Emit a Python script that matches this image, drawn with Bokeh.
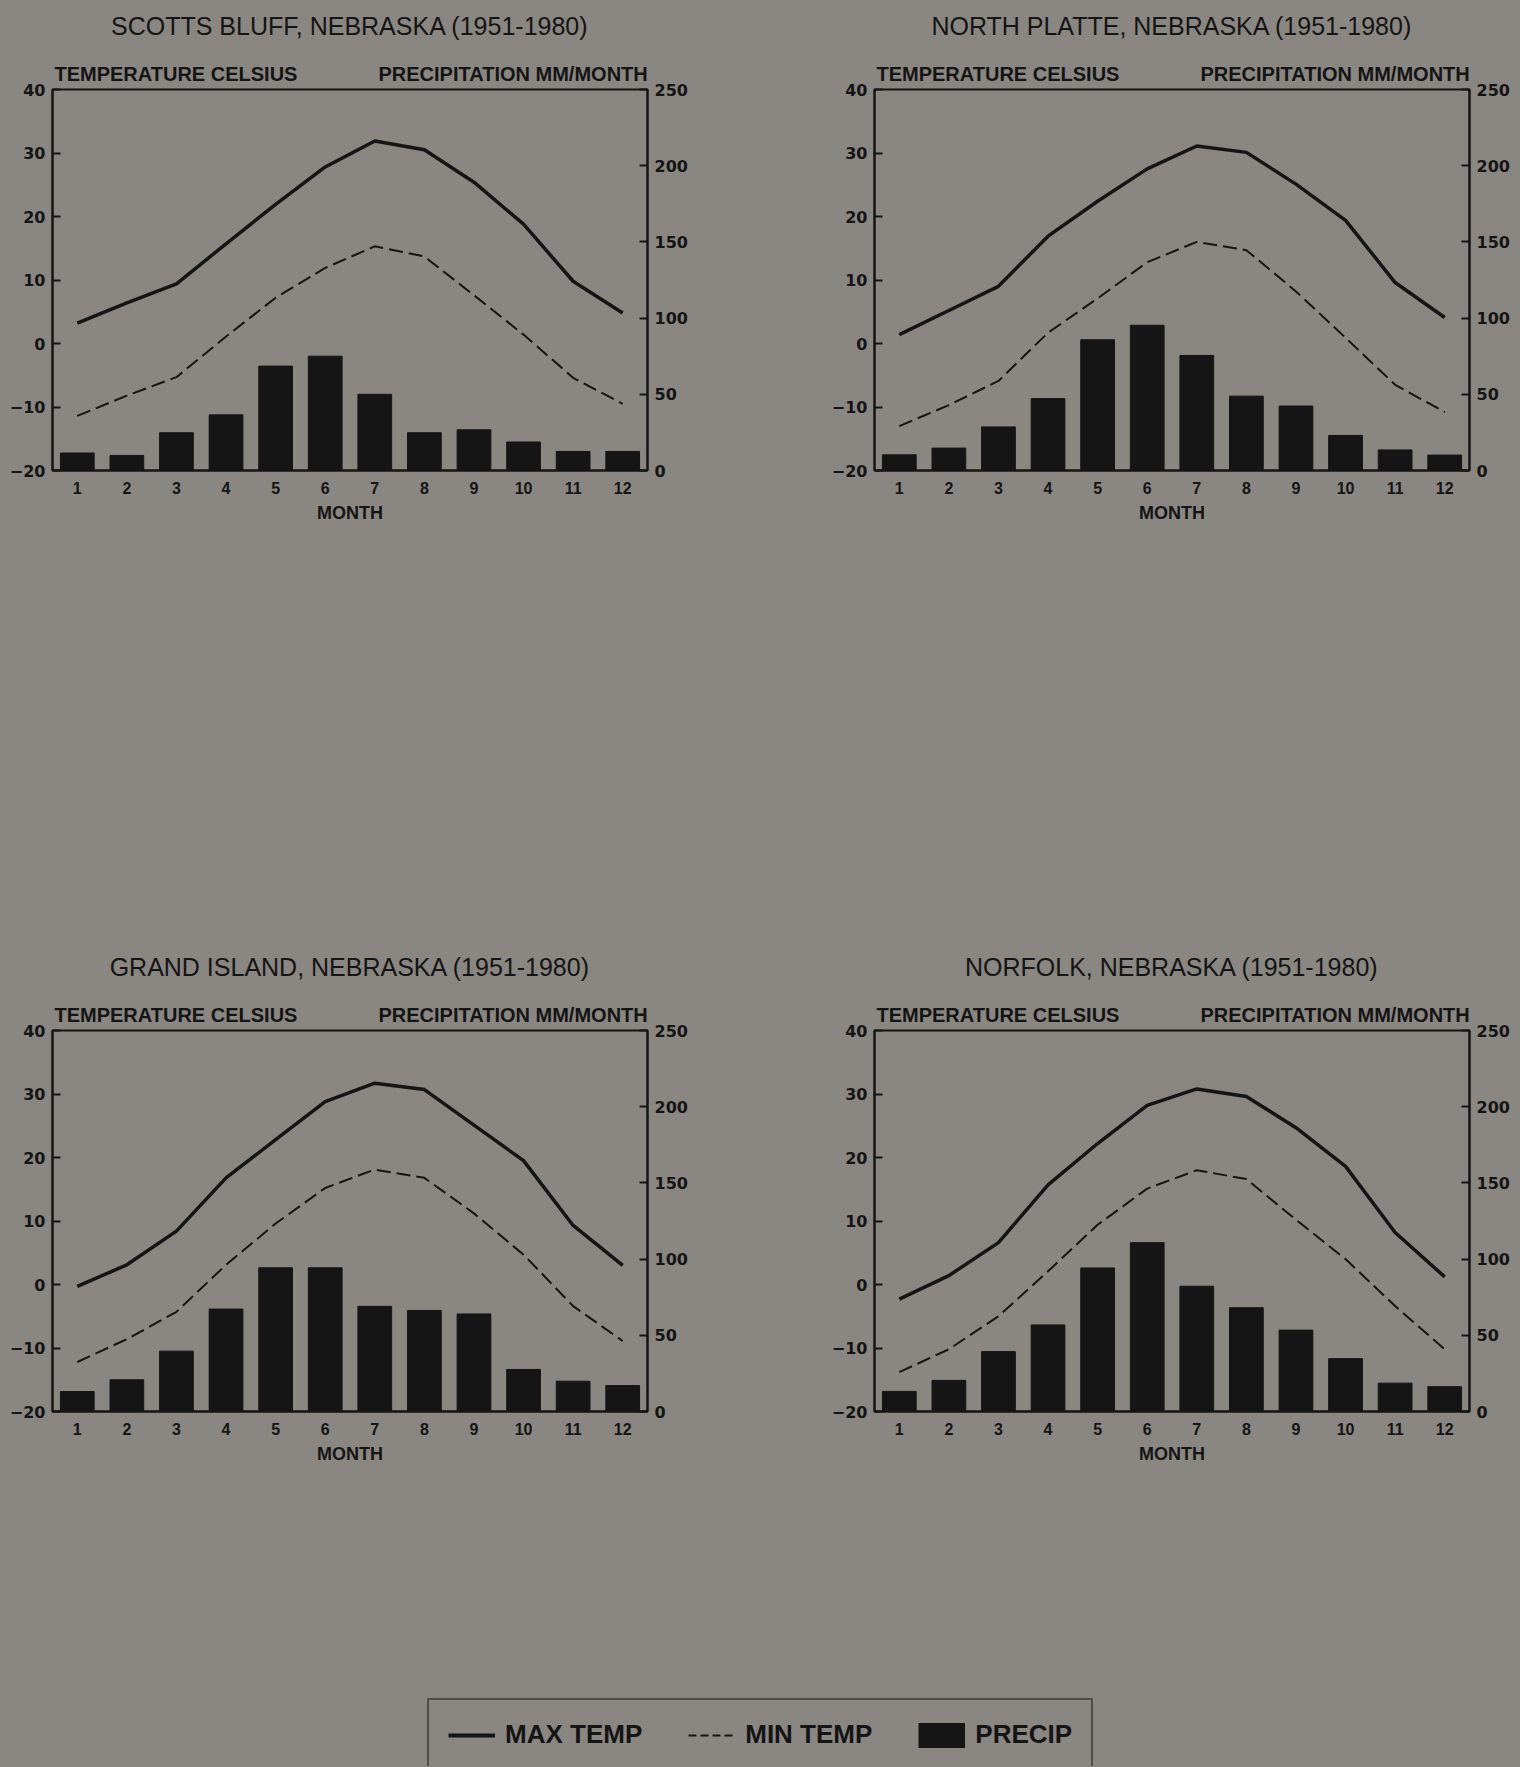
from bokeh.plotting import figure
from bokeh.models import Range1d, LinearAxis, FixedTicker, Legend, LegendItem
from bokeh.layouts import column, row
from bokeh.embed import file_html
from bokeh.resources import INLINE

# ---------------- data ----------------
months = [1, 2, 3, 4, 5, 6, 7, 8, 9, 10, 11, 12]
temp_ticks = [-20, -10, 0, 10, 20, 30, 40]
precip_ticks = [0, 50, 100, 150, 200, 250]

titles = [
    "SCOTTS BLUFF, NEBRASKA (1951-1980)",
    "NORTH PLATTE, NEBRASKA (1951-1980)",
    "GRAND ISLAND, NEBRASKA (1951-1980)",
    "NORFOLK, NEBRASKA (1951-1980)",
]
temp_header = "TEMPERATURE CELSIUS"
precip_header = "PRECIPITATION MM/MONTH"
x_label = "MONTH"

scotts_tmax = [3.2, 6.4, 9.4, 15.7, 21.9, 27.8, 31.9, 30.5, 25.4, 18.8, 9.8, 4.8]
scotts_tmin = [-11.4, -8.2, -5.3, 1.1, 7.2, 11.9, 15.3, 13.7, 7.6, 1.4, -5.4, -9.5]
scotts_precip = [11.5, 9.9, 24.8, 36.5, 68.5, 75.0, 50.0, 24.8, 26.7, 18.7, 12.5, 12.5]

platte_tmax = [1.4, 5.2, 9.0, 16.9, 22.4, 27.5, 31.1, 30.1, 25.1, 19.4, 9.6, 4.1]
platte_tmin = [-13.0, -9.7, -5.9, 1.7, 7.1, 12.8, 16.0, 14.7, 8.2, 0.9, -6.5, -10.8]
platte_precip = [10.3, 14.7, 28.6, 47.2, 85.8, 95.3, 75.5, 48.8, 42.3, 23.0, 13.5, 10.1]

grand_tmax = [-0.3, 3.1, 8.4, 16.8, 22.8, 28.8, 31.7, 30.7, 25.1, 19.5, 9.3, 3.0]
grand_tmin = [-12.2, -8.6, -4.3, 3.1, 9.6, 15.2, 18.1, 16.8, 11.2, 4.7, -3.4, -8.9]
grand_precip = [13.1, 20.8, 39.6, 67.2, 94.3, 94.3, 69.0, 66.3, 64.0, 27.6, 19.9, 17.0]

norfolk_tmax = [-2.3, 1.4, 6.6, 15.7, 22.2, 28.2, 30.8, 29.6, 24.7, 18.6, 8.2, 1.2]
norfolk_tmin = [-13.8, -10.2, -5.0, 2.1, 9.4, 15.1, 18.0, 16.6, 10.2, 4.0, -3.4, -10.2]
norfolk_precip = [13.2, 20.4, 39.3, 56.8, 94.2, 110.8, 82.2, 68.1, 53.4, 34.7, 18.6, 16.3]

legend_labels = ["MAX TEMP", "MIN TEMP", "PRECIP"]

# ---------------- style ----------------
BG = "#8a8681"
INK = "#151515"
SANS = "Liberation Sans"
WIDE = "DejaVu Sans"
# centres (in month units) of the two header texts above each frame
HEADER_POS = [2.99, 9.79]


def make_panel(title, tmax, tmin, precip, left_b, right_b, bottom_b):
    p = figure(frame_width=595, frame_height=381,
               min_border_left=left_b, min_border_right=right_b,
               min_border_top=89, min_border_bottom=bottom_b,
               x_range=Range1d(0.5, 12.5), y_range=Range1d(-20, 40),
               output_backend="svg", toolbar_location=None,
               background_fill_color=BG, border_fill_color=BG,
               outline_line_color=INK, outline_line_width=2)
    p.extra_y_ranges = {"precip": Range1d(0, 250)}
    p.grid.visible = False

    # bars and lines
    p.vbar(x=months, top=precip, bottom=0, width=0.68, y_range_name="precip",
           fill_color=INK, line_color=INK)
    p.line(months, tmax, line_width=3.5, line_color=INK)
    p.line(months, tmin, line_width=2, line_color=INK, line_dash="14 6")

    # left (temperature) axis
    ya = p.yaxis[0]
    ya.ticker = FixedTicker(ticks=temp_ticks)
    # right (precip) axis
    ra = LinearAxis(y_range_name="precip", ticker=FixedTicker(ticks=precip_ticks))
    p.add_layout(ra, "right")
    for ax in (ya, ra):
        ax.major_tick_in = 8
        ax.major_tick_out = 0
        ax.minor_tick_in = 0
        ax.minor_tick_out = 0
        ax.axis_line_color = INK
        ax.axis_line_width = 2
        ax.major_tick_line_color = INK
        ax.major_tick_line_width = 2
        ax.major_label_text_font = WIDE
        ax.major_label_text_font_style = "bold"
        ax.major_label_text_font_size = "16px"
        ax.major_label_text_color = INK
        ax.major_label_standoff = 7

    xa = p.xaxis[0]
    xa.ticker = FixedTicker(ticks=months)
    xa.major_tick_in = 0
    xa.major_tick_out = 0
    xa.minor_tick_in = 0
    xa.minor_tick_out = 0
    xa.axis_line_color = INK
    xa.axis_line_width = 2
    xa.major_label_text_font = SANS
    xa.major_label_text_font_style = "bold"
    xa.major_label_text_font_size = "16px"
    xa.major_label_text_color = INK
    xa.major_label_standoff = 11
    xa.axis_label = x_label
    xa.axis_label_text_font = SANS
    xa.axis_label_text_font_style = "bold"
    xa.axis_label_text_font_size = "18px"
    xa.axis_label_text_color = INK
    xa.axis_label_standoff = 6

    # header texts just above the frame (an unlined top axis) with the
    # station name centred above them
    ha = LinearAxis(ticker=FixedTicker(ticks=HEADER_POS),
                    major_label_overrides={HEADER_POS[0]: temp_header,
                                           HEADER_POS[1]: precip_header})
    ha.axis_line_color = None
    ha.major_tick_in = 0
    ha.major_tick_out = 0
    ha.minor_tick_in = 0
    ha.minor_tick_out = 0
    ha.major_label_standoff = 5
    ha.major_label_text_font = SANS
    ha.major_label_text_font_style = "bold"
    ha.major_label_text_font_size = "20px"
    ha.major_label_text_color = INK
    ha.axis_label = title
    ha.axis_label_standoff = 20
    ha.axis_label_text_font = SANS
    ha.axis_label_text_font_style = "normal"
    ha.axis_label_text_font_size = "25px"
    ha.axis_label_text_color = INK
    p.add_layout(ha, "above")
    return p


p1 = make_panel(titles[0], scotts_tmax, scotts_tmin, scotts_precip, 52, 113, 471)
p2 = make_panel(titles[1], platte_tmax, platte_tmin, platte_precip, 114, 51, 471)
p3 = make_panel(titles[2], grand_tmax, grand_tmin, grand_precip, 52, 113, 59)
p4 = make_panel(titles[3], norfolk_tmax, norfolk_tmin, norfolk_precip, 114, 51, 59)

# ---------------- legend ----------------
nan = float("nan")
pleg = figure(frame_width=1520, frame_height=296, min_border=0,
              x_range=Range1d(0, 1), y_range=Range1d(0, 1),
              output_backend="svg", toolbar_location=None,
              background_fill_color=BG, border_fill_color=BG,
              outline_line_color=None, x_axis_location=None, y_axis_location=None)
pleg.grid.visible = False
# legend proxies (no visible marks of their own)
r_max = pleg.line(x=[nan], y=[nan], line_width=4, line_color=INK)
r_min = pleg.line(x=[nan], y=[nan], line_width=2, line_color=INK, line_dash="8 4")
# solid swatch for the precipitation bars: a thick butt-capped stroke
r_pre = pleg.line(x=[nan], y=[nan], line_width=25, line_color=INK, line_cap="butt")
legend = Legend(items=[LegendItem(label=legend_labels[0], renderers=[r_max]),
                       LegendItem(label=legend_labels[1], renderers=[r_min]),
                       LegendItem(label=legend_labels[2], renderers=[r_pre])],
                orientation="horizontal", location=(427, -5),
                padding=19, spacing=46, margin=0,
                glyph_width=47, glyph_height=26, label_standoff=10,
                label_text_font=SANS, label_text_font_style="bold",
                label_text_font_size="26px", label_text_color=INK,
                border_line_color=INK, border_line_width=2,
                background_fill_color=BG, background_fill_alpha=1.0)
pleg.add_layout(legend)

layout = column(row(p1, p2), row(p3, p4), pleg)

html = file_html(layout, INLINE)
html = html.replace("<head>", "<head><style>html, body {background: %s;}</style>" % BG, 1)
open("out.html", "w").write(html)
